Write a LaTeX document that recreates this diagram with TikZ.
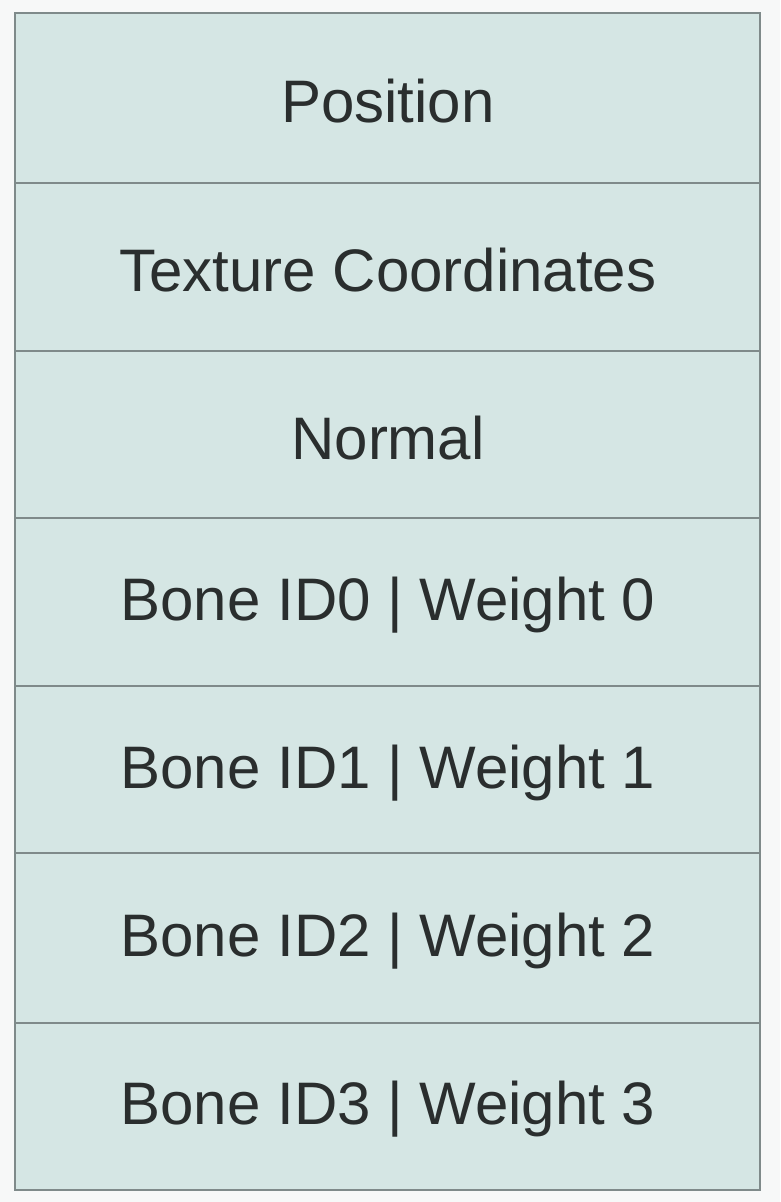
\documentclass[tikz,border=0pt]{standalone}
\usepackage{fontspec}
\setmainfont{Liberation Sans}
\definecolor{bg}{HTML}{F7F8F8}
\definecolor{cellfill}{HTML}{D5E6E4}
\definecolor{cellline}{HTML}{7F8A8A}
\definecolor{txt}{HTML}{2A2E2E}
\tikzset{
  lbl/.style={text=txt, font=\fontsize{60}{72}\selectfont}
}
\begin{document}
\begin{tikzpicture}[x=1pt,y=-1pt]
\fill[bg] (0,0) rectangle (780,1202);
\useasboundingbox (0,0) rectangle (780,1202);
\draw[cellline, fill=cellfill, line width=1.5pt] (15,13) rectangle (760,1190);
\foreach \yy in {183,351,518,686,853,1023} {
  \draw[cellline, line width=1.2pt] (15,\yy) -- (760,\yy);
}
\node[lbl] (r1) at (388,101) {Position};
\node[lbl] (r2) at (388,270) {Texture Coordinates};
\node[lbl] (r3) at (388,438) {Normal};
\node[lbl] (r4) at (388,605) {Bone ID0 | Weight 0};
\node[lbl] (r5) at (388,773) {Bone ID1 | Weight 1};
\node[lbl] (r6) at (388,941) {Bone ID2 | Weight 2};
\node[lbl] (r7) at (388,1109) {Bone ID3 | Weight 3};
\end{tikzpicture}
\end{document}
